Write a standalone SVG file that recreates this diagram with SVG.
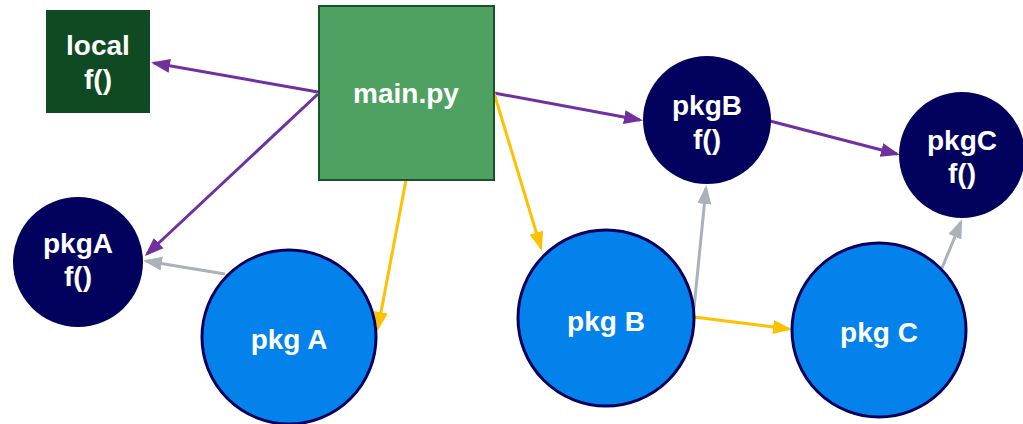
<svg xmlns="http://www.w3.org/2000/svg" width="1023" height="424" viewBox="0 0 1023 424">
<style>
.t{font-family:"Liberation Sans",Arial,sans-serif;font-weight:bold;font-size:28px;fill:#ffffff;text-anchor:middle}
.fn{fill:#02025e}
.pkg{fill:#0482ec;stroke:#02025e;stroke-width:3}
.c{fill:none;stroke-width:3}
.p{stroke:#7030a0}
.y{stroke:#ffc000}
.g{stroke:#aab1b9}
</style>
<defs>
<marker id="ap" markerUnits="userSpaceOnUse" markerWidth="20" markerHeight="16" viewBox="0 0 20 16" refX="16" refY="8" orient="auto"><path d="M0,1 L19,8 L0,15 Z" fill="#7030a0"/></marker>
<marker id="ay" markerUnits="userSpaceOnUse" markerWidth="20" markerHeight="16" viewBox="0 0 20 16" refX="16" refY="8" orient="auto"><path d="M0,1 L19,8 L0,15 Z" fill="#ffc000"/></marker>
<marker id="ag" markerUnits="userSpaceOnUse" markerWidth="20" markerHeight="16" viewBox="0 0 20 16" refX="16" refY="8" orient="auto"><path d="M0,1 L19,8 L0,15 Z" fill="#aab1b9"/></marker>
</defs>
<rect width="1023" height="424" fill="#ffffff"/>
<g id="connectors">
<line class="c p" x1="318" y1="92" x2="154" y2="63" marker-end="url(#ap)"/>
<line class="c p" x1="318" y1="94" x2="147" y2="254" marker-end="url(#ap)"/>
<line class="c p" x1="494" y1="93" x2="640" y2="120" marker-end="url(#ap)"/>
<line class="c p" x1="770" y1="121" x2="897" y2="154" marker-end="url(#ap)"/>
<line class="c y" x1="406" y1="180" x2="378" y2="328" marker-end="url(#ay)"/>
<line class="c y" x1="494" y1="93" x2="541" y2="248" marker-end="url(#ay)"/>
<line class="c y" x1="694" y1="317" x2="789" y2="329" marker-end="url(#ay)"/>
<line class="c g" x1="225" y1="274" x2="146" y2="261" marker-end="url(#ag)"/>
<line class="c g" x1="694" y1="308" x2="706" y2="188" marker-end="url(#ag)"/>
<line class="c g" x1="942" y1="268" x2="961" y2="222" marker-end="url(#ag)"/>
</g>
<g id="local">
<rect x="46" y="10" width="104" height="103" fill="#0f4a22"/>
<text class="t" x="98" y="55">local</text>
<text class="t" x="98" y="89">f()</text>
</g>
<g id="main">
<rect x="319" y="6" width="175" height="174" fill="#4fa161" stroke="#1a5229" stroke-width="2"/>
<text class="t" x="406" y="103">main.py</text>
</g>
<g id="pkgAf">
<circle class="fn" cx="78" cy="262" r="65"/>
<text class="t" x="78" y="253">pkgA</text>
<text class="t" x="78" y="286">f()</text>
</g>
<g id="pkgBf">
<circle class="fn" cx="707" cy="120" r="64"/>
<text class="t" x="707" y="115">pkgB</text>
<text class="t" x="707" y="149">f()</text>
</g>
<g id="pkgCf">
<circle class="fn" cx="962" cy="155" r="63"/>
<text class="t" x="962" y="150">pkgC</text>
<text class="t" x="962" y="183">f()</text>
</g>
<g id="pkgA">
<circle class="pkg" cx="289" cy="337" r="87"/>
<text class="t" x="289" y="349">pkg A</text>
</g>
<g id="pkgB">
<circle class="pkg" cx="606" cy="318" r="88"/>
<text class="t" x="606" y="331">pkg B</text>
</g>
<g id="pkgC">
<circle class="pkg" cx="879" cy="330" r="87"/>
<text class="t" x="879" y="342">pkg C</text>
</g>
</svg>
